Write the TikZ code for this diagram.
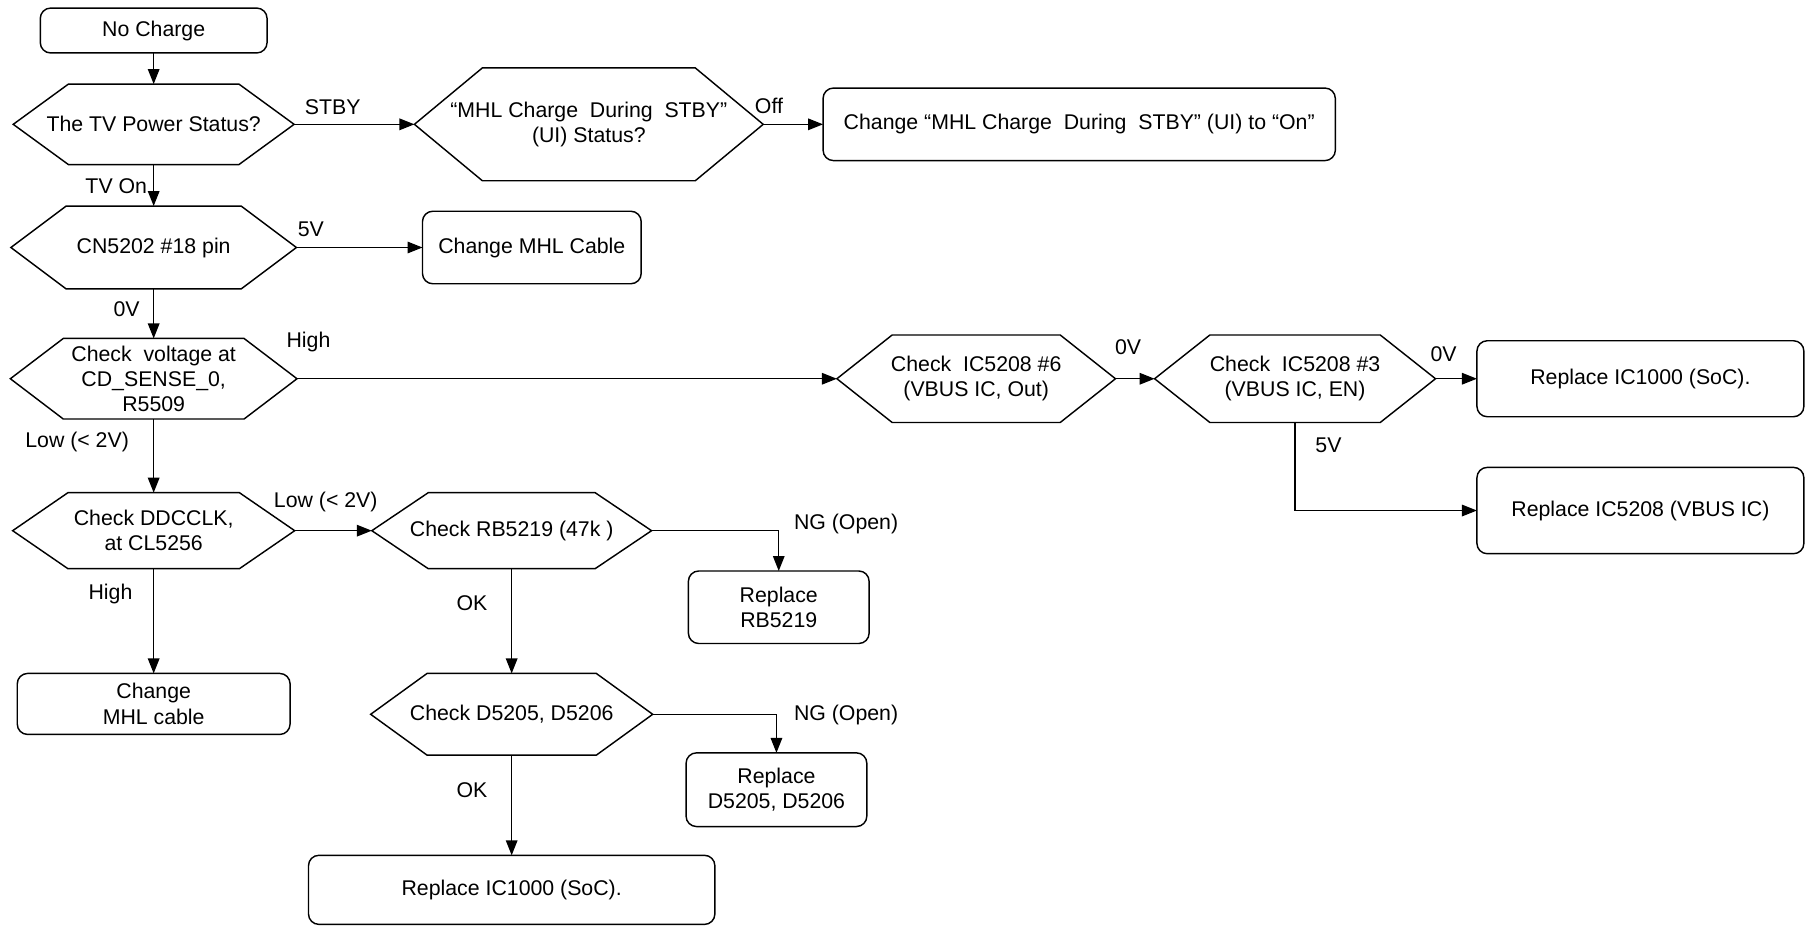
\documentclass[tikz,border=0pt]{standalone}
\usepackage{fontspec}
\setmainfont{Liberation Sans}
\usetikzlibrary{arrows.meta}
\tikzset{
  lw/.style={line width=1.25pt},
  hexline/.style={lw, draw=black},
  hexbox/.style={draw=none, inner sep=0pt, outer sep=0pt, align=center, font=\fsz},
  procbox/.style={lw, draw=black, rounded corners=9pt, inner sep=0pt, outer sep=0pt, align=center, font=\fsz},
  arr/.style={lw, -{Triangle[length=13pt,width=10pt]}},
  lbl/.style={inner sep=0pt, font=\fsz}
}
\newcommand{\fsz}{\fontsize{18.5}{22}\selectfont}
% name, cx, cy, halfw, halfh, offset, text
\newcommand{\hexnode}[7]{%
  \draw[hexline] (#2-#4,#3) -- (#2-#4+#6,#3-#5) -- (#2+#4-#6,#3-#5) -- (#2+#4,#3)
     -- (#2+#4-#6,#3+#5) -- (#2-#4+#6,#3+#5) -- cycle;
  \pgfmathsetmacro{\hexW}{2*#4}\pgfmathsetmacro{\hexH}{2*#5}%
  \node[hexbox, minimum width=\hexW pt, minimum height=\hexH pt] (#1) at (#2,#3) {#7};}
% name, x1, y1, x2, y2, text
\newcommand{\boxnode}[6]{%
  \pgfmathsetmacro{\bxW}{#4-#2}\pgfmathsetmacro{\bxH}{#5-#3}%
  \pgfmathsetmacro{\bxX}{(#2+#4)/2}\pgfmathsetmacro{\bxY}{(#3+#5)/2}%
  \node[procbox, minimum width=\bxW pt, minimum height=\bxH pt] (#1) at (\bxX,\bxY) {#6};}
\begin{document}
\begin{tikzpicture}[x=1pt,y=-1pt]
\useasboundingbox[fill=white] (0,0) rectangle (1568,804);

\boxnode{nc}{35}{7}{232}{46}{No Charge}
\hexnode{h1}{133.5}{108}{122}{35}{48}{The TV Power Status?}
\hexnode{h2}{511.5}{108}{151.5}{49}{59}{“MHL Charge\ \ During\ \ STBY”\\(UI) Status?}
\boxnode{bui}{715}{76.5}{1160}{139.5}{Change “MHL Charge\ \ During\ \ STBY” (UI) to “On”}
\hexnode{h3}{133.5}{215}{124}{36}{48}{CN5202 \#18 pin}
\boxnode{bcab}{367}{183.5}{557}{246.5}{Change MHL Cable}
\hexnode{h4}{133.5}{329}{124.5}{35}{46}{Check\ \ voltage at\\CD\_SENSE\_0,\\R5509}
\hexnode{h5}{848}{329}{121}{38}{48}{Check\ \ IC5208 \#6\\(VBUS IC, Out)}
\hexnode{h6}{1125}{329}{122}{38}{48}{Check\ \ IC5208 \#3\\(VBUS IC, EN)}
\boxnode{bsoc1}{1283}{296}{1567}{362}{Replace IC1000 (SoC).}
\boxnode{bvbus}{1283}{406}{1567}{481}{Replace IC5208 (VBUS IC)}
\hexnode{h7}{133.5}{461}{122.5}{33}{48}{Check DDCCLK,\\at CL5256}
\hexnode{h8}{444.5}{461}{121.5}{33}{49}{Check RB5219 (47k )}
\boxnode{brb}{598}{496}{755}{559}{Replace\\RB5219}
\hexnode{h9}{444.5}{620.5}{122.5}{35.5}{49}{Check D5205, D5206}
\boxnode{bd}{596}{654}{753}{718}{Replace\\D5205, D5206}
\boxnode{bsoc2}{268}{743}{621}{803}{Replace IC1000 (SoC).}
\boxnode{bcab2}{15}{585}{252}{638}{Change\\MHL cable}

\draw[arr] (nc.south) -- (h1.north);
\draw[arr] (h1.east) -- (h2.west);
\draw[arr] (h2.east) -- (bui.west);
\draw[arr] (h1.south) -- (h3.north);
\draw[arr] (h3.east) -- (bcab.west);
\draw[arr] (h3.south) -- (h4.north);
\draw[arr] (h4.east) -- (h5.west);
\draw[arr] (h5.east) -- (h6.west);
\draw[arr] (h6.east) -- (bsoc1.west);
\draw[arr] (h6.south) |- (bvbus.west);
\draw[arr] (h4.south) -- (h7.north);
\draw[arr] (h7.east) -- (h8.west);
\draw[arr] (h8.east) -| (brb.north);
\draw[arr] (h8.south) -- (h9.north);
\draw[arr] (h9.east) -| (bd.north);
\draw[arr] (h9.south) -- (bsoc2.north);
\draw[arr] (h7.south) -- (bcab2.north);

\node[lbl] (l1) at (289,93) {STBY};
\node[lbl] (l2) at (668,92) {Off};
\node[lbl] (l3) at (101,162) {TV On};
\node[lbl] (l4) at (270,199) {5V};
\node[lbl] (l5) at (110,269) {0V};
\node[lbl] (l6) at (268,297) {High};
\node[lbl] (l7) at (980,302) {0V};
\node[lbl] (l8) at (1254,308) {0V};
\node[lbl] (l9) at (1154,387) {5V};
\node[lbl] (l10) at (67,384) {Low (< 2V)};
\node[lbl] (l11) at (283,436) {Low (< 2V)};
\node[lbl] (l12) at (735,455) {NG (Open)};
\node[lbl] (l13) at (96,516) {High};
\node[lbl] (l14) at (410,524) {OK};
\node[lbl] (l15) at (735,621) {NG (Open)};
\node[lbl] (l16) at (410,686) {OK};
\end{tikzpicture}
\end{document}
